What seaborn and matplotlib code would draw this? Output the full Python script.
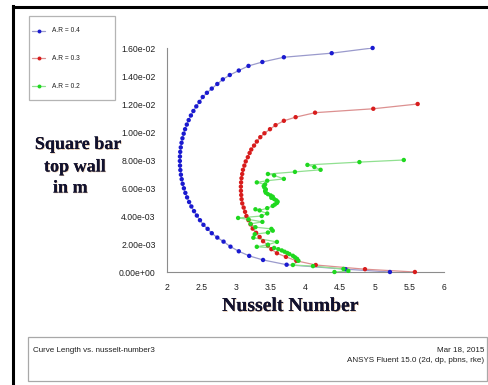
import matplotlib
matplotlib.use("Agg")
import matplotlib.pyplot as plt
import matplotlib.patheffects as pe
from matplotlib.lines import Line2D
from matplotlib.patches import Rectangle
from matplotlib.ticker import MultipleLocator, FuncFormatter
import pandas as pd
import seaborn as sns

# Nusselt number along the square bar top wall (curve length in m)
ar04_nu = [5.22, 4.58, 3.73, 3.39, 3.19, 3.04, 2.92, 2.82, 2.73, 2.65, 2.59, 2.53, 2.48,
           2.435, 2.394, 2.356, 2.323, 2.294, 2.269, 2.248, 2.23, 2.216, 2.205, 2.197, 2.192,
           2.19, 2.191, 2.195, 2.203, 2.214, 2.227, 2.245, 2.265, 2.29, 2.317, 2.349, 2.385,
           2.427, 2.473, 2.52, 2.58, 2.65, 2.73, 2.81, 2.91, 3.04, 3.18, 3.38, 3.69, 4.38, 4.97]
ar04_len = [0.0, 0.0002, 0.00052, 0.00086, 0.00115, 0.00148, 0.00181, 0.00217, 0.00246,
            0.00277, 0.00308, 0.00337, 0.0037, 0.00403, 0.00435, 0.00468, 0.005, 0.00533,
            0.00565, 0.00598, 0.0063, 0.00663, 0.00695, 0.00728, 0.0076, 0.00793, 0.00825,
            0.00858, 0.0089, 0.00923, 0.00955, 0.00988, 0.0102, 0.01053, 0.01085, 0.01118,
            0.0115, 0.01183, 0.01215, 0.0125, 0.0128, 0.0131, 0.01343, 0.01376, 0.01407,
            0.01439, 0.01472, 0.0150, 0.01534, 0.01563, 0.016]

ar03_nu = [5.58, 4.86, 4.15, 3.87, 3.72, 3.59, 3.51, 3.46, 3.39, 3.34, 3.29, 3.24, 3.21,
           3.18, 3.15, 3.13, 3.11, 3.09, 3.08, 3.075, 3.071, 3.07, 3.073, 3.079, 3.089, 3.10,
           3.12, 3.14, 3.17, 3.196, 3.22, 3.26, 3.30, 3.35, 3.41, 3.49, 3.57, 3.69, 3.86,
           4.14, 4.98, 5.62]
ar03_len = [0.0, 0.0002, 0.0005, 0.0008, 0.00108, 0.00134, 0.00163, 0.0019, 0.0022, 0.0025,
            0.0028, 0.0031, 0.0034, 0.0037, 0.004, 0.0043, 0.0046, 0.0049, 0.0052, 0.0055,
            0.0058, 0.0061, 0.0064, 0.0067, 0.007, 0.0073, 0.0076, 0.0079, 0.0082, 0.0085,
            0.00875, 0.00903, 0.00932, 0.00963, 0.00991, 0.0102, 0.01049, 0.0108, 0.01106,
            0.01138, 0.01166, 0.012]

ar02_nu = [5.42, 4.78, 4.03, 4.13, 4.22, 3.85, 3.46, 3.55, 3.69, 3.45, 3.30, 3.42, 3.40,
           3.41, 3.43, 3.42, 3.43, 3.46, 3.50, 3.53, 3.51, 3.55, 3.58, 3.60, 3.59, 3.56,
           3.53, 3.45, 3.34, 3.28, 3.45, 3.37, 3.03, 3.18, 3.38, 3.21, 3.28, 3.51, 3.53,
           3.46, 3.27, 3.25, 3.59, 3.46, 3.30, 3.55, 3.61, 3.66, 3.70, 3.74, 3.77, 3.82,
           3.85, 3.88, 3.90, 3.82, 4.11, 4.55, 4.62, 4.42]
ar02_len = [0.0080, 0.00785, 0.00765, 0.0075, 0.0073, 0.00715, 0.0070, 0.0069, 0.00665,
            0.00652, 0.0064, 0.00626, 0.00614, 0.00603, 0.0059, 0.00578, 0.00566, 0.00556,
            0.00547, 0.00538, 0.0053, 0.00521, 0.00512, 0.00502, 0.00493, 0.00482, 0.00472,
            0.00456, 0.0044, 0.00448, 0.00418, 0.004, 0.00386, 0.00376, 0.00358, 0.00344,
            0.0032, 0.00308, 0.00295, 0.00282, 0.0027, 0.00245, 0.00215, 0.00195, 0.0018,
            0.00172, 0.00163, 0.00154, 0.00145, 0.00136, 0.00128, 0.00116, 0.00105, 0.00094,
            0.0008, 0.0005, 0.00042, 0.00022, 0.00008, 0.0]

series_labels = ["A.R = 0.4", "A.R = 0.3", "A.R = 0.2"]
x_ticks = [2, 2.5, 3, 3.5, 4, 4.5, 5, 5.5, 6]

sns.set_theme(style="white")
plt.rcParams["font.family"] = ["Liberation Sans", "DejaVu Sans"]

W, H = 488, 385
fig = plt.figure(figsize=(W / 100, H / 100), dpi=100)
fig.patch.set_facecolor("white")


def fx(px):
    return px / W


def fy(py):
    return 1 - py / H


ax = fig.add_axes([fx(166.7), fy(272), (444 - 166.7) / W, (272 - 48) / H])
ax.set_facecolor("white")

styles = [
    ("#9a9acc", "#1a1ad0"),
    ("#dc9090", "#d81c1c"),
    ("#90e090", "#1fd81f"),
]
data = [(ar04_nu, ar04_len), (ar03_nu, ar03_len), (ar02_nu, ar02_len)]

for (nu, ln), (lc, mc), lab in zip(data, styles, series_labels):
    df = pd.DataFrame({"nu": nu, "len": ln})
    sns.lineplot(data=df, x="nu", y="len", sort=False, estimator=None,
                 color=lc, lw=0.9, ax=ax, legend=False)
    sns.scatterplot(data=df, x="nu", y="len", color=mc, s=10, edgecolor="none",
                    ax=ax, legend=False, clip_on=False, zorder=3)

ax.set_xlim(2, 6)
ax.set_ylim(0, 0.016)
ax.set_xlabel("")
ax.set_ylabel("")
for s in ["top", "right"]:
    ax.spines[s].set_visible(False)
for s in ["left", "bottom"]:
    ax.spines[s].set_color("#8c8c8c")
    ax.spines[s].set_linewidth(0.8)

ax.set_xticks(x_ticks)
ax.xaxis.set_minor_locator(MultipleLocator(0.25))
ax.yaxis.set_major_locator(MultipleLocator(0.002))
ax.yaxis.set_minor_locator(MultipleLocator(0.001))
ax.xaxis.set_major_formatter(FuncFormatter(lambda v, p: f"{v:g}"))
ax.yaxis.set_major_formatter(FuncFormatter(lambda v, p: f"{v:.2e}"))
ax.tick_params(axis="both", which="both", direction="out", color="#8c8c8c",
               labelsize=6.2, labelcolor="#202020", width=0.7)
ax.tick_params(axis="x", which="major", length=3, pad=5)
ax.tick_params(axis="x", which="minor", length=2)
ax.tick_params(axis="y", which="major", length=4.5, pad=3.5)
ax.tick_params(axis="y", which="minor", length=3)

# axis titles
shadow = [pe.withSimplePatchShadow(offset=(0.5, -0.5), shadow_rgbFace="#c07830", alpha=0.45),
          pe.Normal()]
fig.text(fx(290.5), fy(311), "Nusselt Number", ha="center", va="baseline",
         family="Liberation Serif", weight="bold", fontsize=14.2, color="#12122e",
         path_effects=shadow)
for txt, cx, base in [("Square bar", 78, 149), ("top wall", 74.7, 171.5), ("in m", 70.3, 192.5)]:
    fig.text(fx(cx), fy(base), txt, ha="center", va="baseline",
             family="Liberation Serif", weight="bold", fontsize=13, color="#12122e",
             path_effects=shadow)

# legend box
fig.add_artist(Rectangle((fx(29), fy(100)), (115 - 29) / W, (100 - 16) / H,
                         transform=fig.transFigure, facecolor="white",
                         edgecolor="#b4b4b4", lw=0.9))
for (lc, mc), lab, yy in zip(styles, series_labels, [31, 58, 86]):
    fig.add_artist(Line2D([fx(32), fx(45)], [fy(yy), fy(yy)], transform=fig.transFigure,
                          color=lc, lw=0.9))
    fig.add_artist(Line2D([fx(38.5)], [fy(yy)], transform=fig.transFigure, marker="o",
                          markersize=2.8, color=mc, markeredgewidth=0, lw=0))
    fig.text(fx(52), fy(yy), lab, ha="left", va="center", fontsize=4.8, color="#202020")

# footer panel
fig.add_artist(Rectangle((fx(28), fy(381)), (487 - 28) / W, (381 - 337) / H,
                         transform=fig.transFigure, facecolor="none",
                         edgecolor="#a8a8a8", lw=0.9))
fig.text(fx(33), fy(351), "Curve Length vs. nusselt-number3", ha="left", va="center",
         fontsize=5.8, color="#202020")
fig.text(fx(484), fy(350), "Mar 18, 2015", ha="right", va="center",
         fontsize=5.8, color="#202020")
fig.text(fx(484), fy(361), "ANSYS Fluent 15.0 (2d, dp, pbns, rke)", ha="right",
         va="center", fontsize=5.8, color="#202020")

# outer window frame
fig.add_artist(Line2D([fx(13.3), fx(13.3)], [fy(5.5), 0], transform=fig.transFigure,
                      color="black", lw=2.2, solid_capstyle="projecting"))
fig.add_artist(Line2D([fx(13.3), 1], [fy(6.7), fy(6.7)], transform=fig.transFigure,
                      color="black", lw=2.2, solid_capstyle="projecting"))

fig.savefig("out.png", dpi=100, facecolor="white")
